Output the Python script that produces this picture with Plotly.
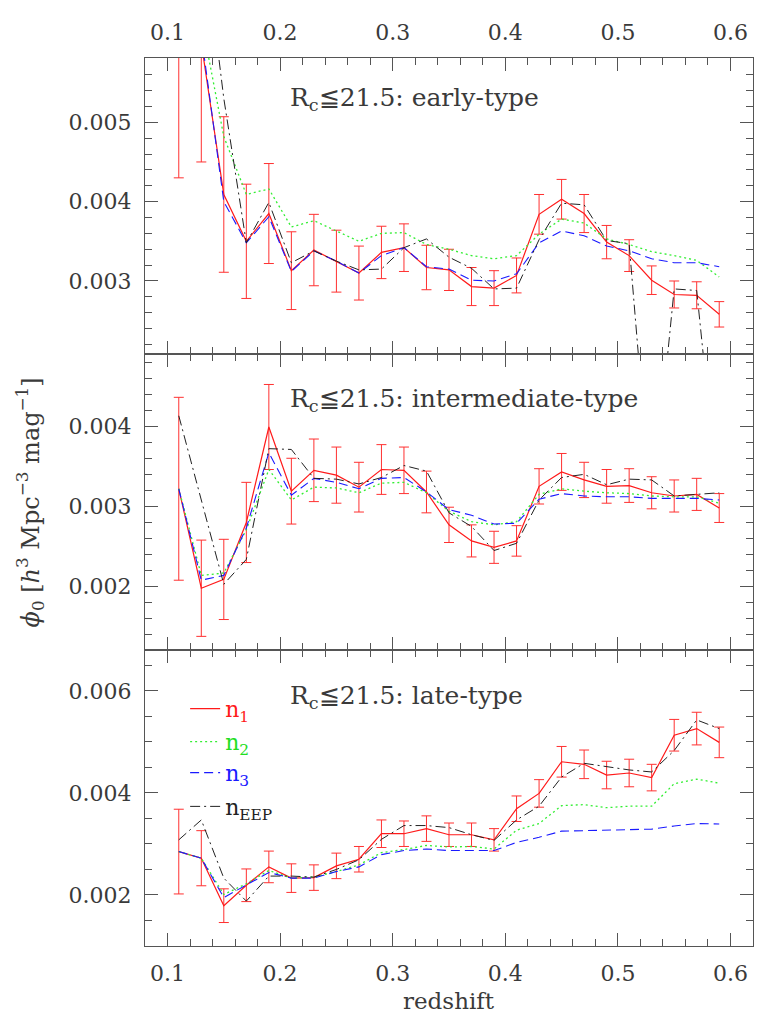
import plotly.graph_objects as go
from plotly.subplots import make_subplots

# redshift bins
z = [0.11, 0.13, 0.15, 0.17, 0.19, 0.21, 0.23, 0.25, 0.27, 0.29, 0.31, 0.33, 0.35,
     0.37, 0.39, 0.41, 0.43, 0.45, 0.47, 0.49, 0.51, 0.53, 0.55, 0.57, 0.59]

# early-type
early_n1 = [0.0066, 0.0060, 0.00409, 0.00350, 0.00385, 0.00313, 0.00339, 0.00325, 0.00310, 0.00336,
            0.00342, 0.00317, 0.00314, 0.00293, 0.00291, 0.00307, 0.00384, 0.00403, 0.00385, 0.00349,
            0.00332, 0.00301, 0.00283, 0.00282, 0.00258]
early_n1_err = [0.0023, 0.0015, 0.00098, 0.00072, 0.00063, 0.00049, 0.00045, 0.00039, 0.00034, 0.00033,
                0.00030, 0.00028, 0.00026, 0.00024, 0.00022, 0.00022, 0.00025, 0.00025, 0.00024, 0.00021,
                0.00020, 0.00018, 0.00017, 0.00017, 0.00016]
early_n2 = [0.0068, 0.0063, 0.00482, 0.00409, 0.00416, 0.00368, 0.00376, 0.00363, 0.00350, 0.00360,
            0.00361, 0.00346, 0.00340, 0.00332, 0.00328, 0.00332, 0.00359, 0.00378, 0.00373, 0.00353,
            0.00346, 0.00337, 0.00332, 0.00326, 0.00305]
early_n3 = [0.0065, 0.0061, 0.00400, 0.00348, 0.00381, 0.00312, 0.00338, 0.00325, 0.00310, 0.00332,
            0.00342, 0.00318, 0.00315, 0.00301, 0.00300, 0.00309, 0.00348, 0.00363, 0.00357, 0.00344,
            0.00338, 0.00328, 0.00323, 0.00323, 0.00318]
early_eep = [0.0085, 0.0076, 0.00530, 0.00348, 0.00399, 0.00323, 0.00338, 0.00325, 0.00314, 0.00315,
             0.00342, 0.00353, 0.00330, 0.00316, 0.00290, 0.00291, 0.00352, 0.00398, 0.00396, 0.00351,
             0.00347, 0.00005, 0.00290, 0.00288, 0.00010]

# intermediate-type
mid_n1 = [0.00322, 0.00198, 0.00209, 0.00280, 0.00399, 0.00319, 0.00345, 0.00339, 0.00324, 0.00346,
          0.00345, 0.00318, 0.00277, 0.00257, 0.00249, 0.00257, 0.00325, 0.00343, 0.00333, 0.00325,
          0.00326, 0.00317, 0.00313, 0.00315, 0.00298]
mid_n1_err = [0.00114, 0.00060, 0.00050, 0.00050, 0.00053, 0.00041, 0.00039, 0.00035, 0.00031, 0.00031,
              0.00029, 0.00026, 0.00022, 0.00020, 0.00020, 0.00019, 0.00022, 0.00023, 0.00022, 0.00021,
              0.00021, 0.00020, 0.00020, 0.00020, 0.00018]
mid_n2 = [0.00322, 0.00214, 0.00217, 0.00271, 0.00346, 0.00308, 0.00324, 0.00323, 0.00317, 0.00329,
          0.00330, 0.00317, 0.00294, 0.00281, 0.00277, 0.00281, 0.00315, 0.00322, 0.00319, 0.00317,
          0.00316, 0.00313, 0.00312, 0.00312, 0.00304]
mid_n3 = [0.00322, 0.00208, 0.00214, 0.00273, 0.00367, 0.00314, 0.00335, 0.00330, 0.00322, 0.00335,
          0.00336, 0.00318, 0.00296, 0.00289, 0.00278, 0.00279, 0.00309, 0.00316, 0.00313, 0.00312,
          0.00312, 0.00310, 0.00310, 0.00310, 0.00308]
mid_eep = [0.00413, 0.00308, 0.00203, 0.00234, 0.00372, 0.00371, 0.00335, 0.00334, 0.00328, 0.00336,
           0.00351, 0.00344, 0.00292, 0.00275, 0.00245, 0.00254, 0.00308, 0.00336, 0.00340, 0.00327,
           0.00334, 0.00333, 0.00313, 0.00315, 0.00317]

# late-type
late_n1 = [0.00285, 0.00272, 0.00179, 0.00219, 0.00255, 0.00233, 0.00234, 0.00257, 0.00270, 0.00320,
           0.00320, 0.00330, 0.00318, 0.00318, 0.00308, 0.00369, 0.00399, 0.00461, 0.00456, 0.00435,
           0.00439, 0.00430, 0.00513, 0.00526, 0.00499]
late_n1_err = [0.00083, 0.00054, 0.00033, 0.00032, 0.00031, 0.00028, 0.00025, 0.00025, 0.00025, 0.00027,
               0.00025, 0.00025, 0.00023, 0.00023, 0.00022, 0.00025, 0.00027, 0.00030, 0.00028, 0.00027,
               0.00027, 0.00026, 0.00031, 0.00032, 0.00030]
late_n2 = [0.00285, 0.00272, 0.00201, 0.00222, 0.00248, 0.00233, 0.00235, 0.00246, 0.00259, 0.00283,
           0.00289, 0.00297, 0.00294, 0.00295, 0.00290, 0.00327, 0.00340, 0.00375, 0.00377, 0.00371,
           0.00374, 0.00374, 0.00418, 0.00427, 0.00419]
late_n3 = [0.00285, 0.00272, 0.00195, 0.00220, 0.00244, 0.00233, 0.00233, 0.00246, 0.00255, 0.00279,
           0.00287, 0.00290, 0.00287, 0.00287, 0.00287, 0.00303, 0.00313, 0.00325, 0.00326, 0.00326,
           0.00327, 0.00329, 0.00335, 0.00340, 0.00339]
late_eep = [0.00308, 0.00347, 0.00233, 0.00188, 0.00237, 0.00237, 0.00235, 0.00250, 0.00269, 0.00309,
            0.00336, 0.00336, 0.00332, 0.00318, 0.00307, 0.00347, 0.00374, 0.00431, 0.00458, 0.00451,
            0.00445, 0.00441, 0.00483, 0.00543, 0.00526]

panel_labels = ['R<sub>c</sub>≦21.5: early-type',
                'R<sub>c</sub>≦21.5: intermediate-type',
                'R<sub>c</sub>≦21.5: late-type']
series_names = ['n<sub>1</sub>', 'n<sub>2</sub>', 'n<sub>3</sub>', 'n<sub>EEP</sub>']
y_ranges = [[0.00208, 0.00581], [0.00121, 0.0049], [0.0010, 0.0068]]
y_dticks = [(0.001, 0.0002), (0.001, 0.0002), (0.002, 0.0005)]

FONT = 'DejaVu Serif'
AXC = '#555'
TXT = '#3a3a3a'

fig = make_subplots(rows=3, cols=1, shared_xaxes=True, vertical_spacing=0)

panels = [(early_n1, early_n1_err, early_n2, early_n3, early_eep),
          (mid_n1, mid_n1_err, mid_n2, mid_n3, mid_eep),
          (late_n1, late_n1_err, late_n2, late_n3, late_eep)]

styles = [dict(color='#ff1a1a', width=1.2, dash='solid'),
          dict(color='#33ee33', width=1.3, dash='2px,3px'),
          dict(color='#1a1aff', width=1.1, dash='9px,5px'),
          dict(color='#222', width=1, dash='10px,4px,2px,4px')]
leg_ids = ['legend', 'legend2', 'legend3', 'legend4']

for row, (n1, n1err, n2, n3, eep) in enumerate(panels, start=1):
    last = row == 3
    for k, vals in enumerate([n1, n2, n3, eep]):
        tr = go.Scatter(x=z, y=vals, mode='lines', line=styles[k], name=series_names[k],
                        showlegend=last, legend=leg_ids[k], cliponaxis=True)
        if k == 0:
            tr.error_y = dict(type='data', array=n1err, color='#ff3030', thickness=1, width=5)
        fig.add_trace(tr, row=row, col=1)

# axes
for i in range(1, 4):
    lo, mi = y_dticks[i - 1]
    fig.update_yaxes(range=y_ranges[i - 1], dtick=lo, tick0=0, tickformat='.3f',
                     ticks='inside', ticklen=13, tickwidth=1, tickcolor=AXC,
                     minor=dict(dtick=mi, tick0=0, ticks='inside', ticklen=7, tickcolor=AXC, tickwidth=1),
                     showline=True, linecolor=AXC, linewidth=1, mirror='allticks',
                     showgrid=False, zeroline=False, ticklabelstandoff=8,
                     tickfont=dict(size=22, family=FONT, color=TXT),
                     row=i, col=1)
    fig.update_xaxes(range=[0.08, 0.62], dtick=0.1, tick0=0, tickformat='.1f',
                     ticks='inside', ticklen=13, tickwidth=1, tickcolor=AXC,
                     minor=dict(dtick=0.02, tick0=0, ticks='inside', ticklen=7, tickcolor=AXC, tickwidth=1),
                     showline=True, linecolor=AXC, linewidth=1, mirror='allticks',
                     showgrid=False, zeroline=False, ticklabelstandoff=8,
                     tickfont=dict(size=22, family=FONT, color=TXT),
                     showticklabels=(i != 2), row=i, col=1)
fig.update_xaxes(side='top', row=1, col=1)

# panel labels
label_y = [0.86, 0.845, 0.84]
for i, txt in enumerate(panel_labels):
    sfx = '' if i == 0 else str(i + 1)
    fig.add_annotation(text=txt, xref='x%s domain' % sfx, yref='y%s domain' % sfx,
                       x=0.235, y=label_y[i], xanchor='left', yanchor='middle',
                       showarrow=False, font=dict(size=25, family=FONT, color=TXT))

# axis titles
fig.add_annotation(text='<i>ϕ</i><sub>0</sub> [<i>h</i><sup>3</sup> Mpc<sup>−3</sup> mag<sup>−1</sup>]',
                   xref='paper', yref='paper', x=-0.19, y=0.5, textangle=-90,
                   xanchor='center', yanchor='middle', showarrow=False,
                   font=dict(size=24, family=FONT, color=TXT))
fig.add_annotation(text='redshift', xref='paper', yref='paper', x=0.5, y=-0.062,
                   xanchor='center', yanchor='middle', showarrow=False,
                   font=dict(size=23, family=FONT, color=TXT))

# legends, one per entry so spacing can match
leg_colors = ['#ff1a1a', '#22dd22', '#1a1aff', '#222']
leg_y = [0.267, 0.230, 0.195, 0.157]
layout_legs = {}
for k, lid in enumerate(leg_ids):
    layout_legs[lid] = dict(x=0.066, y=leg_y[k], xanchor='left', yanchor='middle',
                            bgcolor='rgba(0,0,0,0)', borderwidth=0,
                            font=dict(size=22, family=FONT, color=leg_colors[k]))

fig.update_layout(width=771, height=1014,
                  margin=dict(l=137, r=26, t=44, b=76),
                  plot_bgcolor='white', paper_bgcolor='white',
                  font=dict(family=FONT, size=20, color=TXT),
                  **layout_legs)

fig.write_html("out.html")
